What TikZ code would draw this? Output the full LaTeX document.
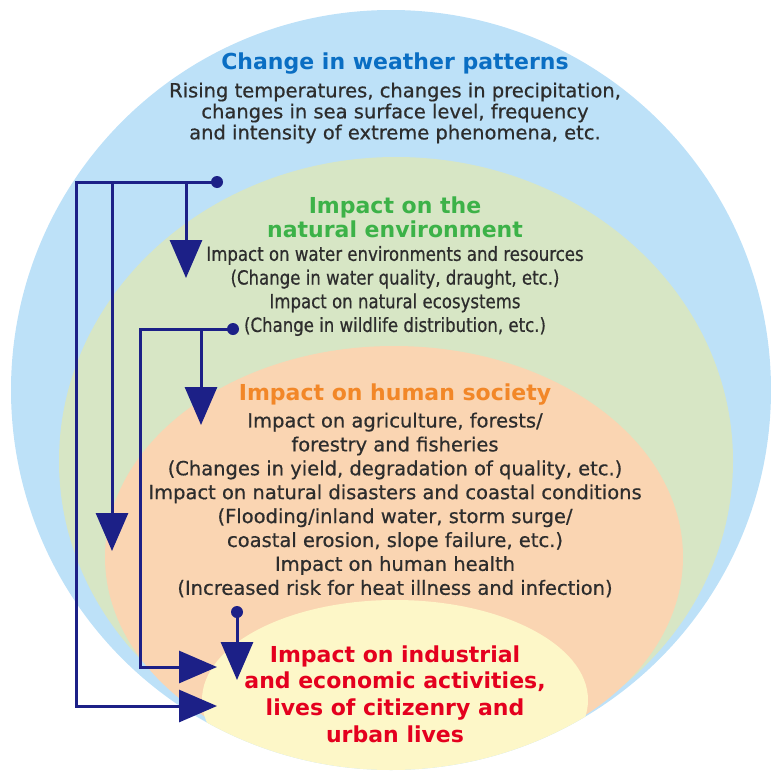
\documentclass[tikz,border=0pt]{standalone}
\usepackage{fontspec}
\setmainfont{DejaVu Sans}
\newfontfamily\bodyfont[FakeBold=0.6]{DejaVu Sans}
\newfontfamily\narrowfont[FakeStretch=0.85,FakeBold=0.6]{DejaVu Sans}
\usetikzlibrary{arrows.meta}
\definecolor{skyfill}{RGB}{189,225,248}
\definecolor{leaffill}{RGB}{215,230,197}
\definecolor{peachfill}{RGB}{250,213,178}
\definecolor{creamfill}{RGB}{253,247,200}
\definecolor{skyblue}{RGB}{10,110,195}
\definecolor{leafgreen}{RGB}{60,178,72}
\definecolor{peach}{RGB}{242,135,40}
\definecolor{alarm}{RGB}{228,0,30}
\definecolor{navy}{RGB}{28,32,135}
\definecolor{bodygray}{RGB}{45,45,45}
\begin{document}
\begin{tikzpicture}[x=1pt, y=-1pt, line join=miter,
    title/.style={font=\bfseries\fontsize{22}{24}\selectfont, align=center},
    body/.style={font=\bodyfont\fontsize{19.5}{21}\selectfont, align=center, text=bodygray},
    dot/.style={circle, fill=navy, inner sep=0pt, minimum size=12pt},
    flow/.style={draw=navy, line width=3pt, -{Triangle[length=38pt,width=32pt]}}]
  \useasboundingbox (0,0) rectangle (771,771);
  % nested regions
  \fill[skyfill] (391,390) circle[radius=380];
  \begin{scope}
    \clip (391,390) circle[radius=380];
    \fill[leaffill] (396,461) ellipse[x radius=337, y radius=304];
    \fill[peachfill] (394,557) ellipse[x radius=289, y radius=211];
    \fill[creamfill] (395,700) ellipse[x radius=193, y radius=100];
  \end{scope}
  % texts
  \node[title, text=skyblue] (weather) at (395,64) {Change in weather patterns};
  \node[body] (weatherbody) at (395,113) {Rising temperatures, changes in precipitation,\\
    changes in sea surface level, frequency\\ and intensity of extreme phenomena, etc.};
  \node[title, text=leafgreen] (nature) at (395,217) {Impact on the\\ natural environment};
  \node[body, font=\narrowfont\fontsize{19.5}{23.7}\selectfont] (naturebody) at (395,291)
    {Impact on water environments and resources\\ (Change in water quality, draught, etc.)\\
     Impact on natural ecosystems\\ (Change in wildlife distribution, etc.)};
  \node[title, text=peach] (human) at (395,395) {Impact on human society};
  \node[body, font=\bodyfont\fontsize{19.5}{23.9}\selectfont] (humanbody) at (395,505)
    {Impact on agriculture, forests/\\ forestry and fisheries\\
     (Changes in yield, degradation of quality, etc.)\\
     Impact on natural disasters and coastal conditions\\
     (Flooding/inland water, storm surge/\\ coastal erosion, slope failure, etc.)\\
     Impact on human health\\ (Increased risk for heat illness and infection)};
  \node[title, text=alarm, font=\bfseries\fontsize{22}{26.7}\selectfont] (industry) at (395,694)
    {Impact on industrial\\ and economic activities,\\ lives of citizenry and\\ urban lives};
  % arrows
  \node[dot] (wdot) at (217,182) {};
  \node[dot] (ndot) at (233,329) {};
  \node[dot] (hdot) at (237,612) {};
  \coordinate (natTip) at (186,278);
  \coordinate (humTipA) at (112,551);
  \coordinate (humTipB) at (201,425);
  \coordinate (indA) at (217,706);
  \coordinate (indB) at (217,667);
  \coordinate (indC) at (237,680);
  \draw[flow] (wdot.center) -| (76,706) -- (indA);
  \draw[flow] (humTipA |- wdot) -- (humTipA);
  \draw[flow] (natTip |- wdot) -- (natTip);
  \draw[flow] (ndot.center) -| (140,667) -- (indB);
  \draw[flow] (humTipB |- ndot) -- (humTipB);
  \draw[flow] (hdot.center) -- (indC);
\end{tikzpicture}
\end{document}
